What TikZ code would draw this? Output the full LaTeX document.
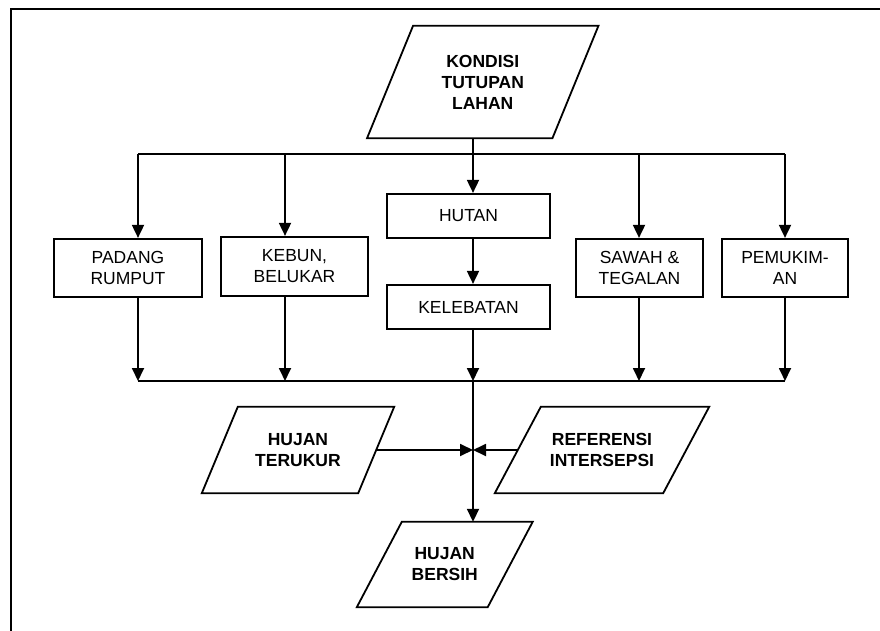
\documentclass[tikz,border=0pt]{standalone}
\usepackage{fontspec}
\setmainfont{Liberation Sans}
\usetikzlibrary{arrows.meta}
\tikzset{
  box/.style={draw, line width=2.2pt, inner sep=0pt, align=center,
    font=\fontsize{17.5}{21}\selectfont},
  ptext/.style={inner sep=0pt, align=center,
    font=\fontsize{17.5}{21}\selectfont\bfseries},
  conn/.style={line width=1.8pt, -{Triangle[length=13pt,width=12pt]}},
  plain/.style={line width=1.8pt},
}
\newcommand{\pgramdraw}[2]{%
  \draw[line width=1.8pt, line join=miter]
    ([xshift=#2pt]#1.north west) -- ([xshift=#2pt]#1.north east)
    -- ([xshift=-#2pt]#1.south east) -- ([xshift=-#2pt]#1.south west) -- cycle;}
\begin{document}
\begin{tikzpicture}[x=1pt,y=-1pt]
\useasboundingbox (0,0) rectangle (880,631);
% frame
\draw[line width=2.2pt] (11,631) -- (11,9) -- (880,9);

% parallelograms
\node[ptext, minimum width=185pt, minimum height=112pt] (kondisi) at (482.75,82) {KONDISI\\TUTUPAN\\LAHAN};
\pgramdraw{kondisi}{23}
\node[ptext, minimum width=156pt, minimum height=86pt] (terukur) at (298,450) {HUJAN\\TERUKUR};
\pgramdraw{terukur}{18}
\node[ptext, minimum width=168pt, minimum height=86pt] (referensi) at (602,450) {REFERENSI\\INTERSEPSI};
\pgramdraw{referensi}{23}
\node[ptext, minimum width=130.5pt, minimum height=85pt] (bersih) at (444.75,564.5) {HUJAN\\BERSIH};
\pgramdraw{bersih}{22.5}

% rectangles
\node[box, minimum width=148pt, minimum height=58pt] (padang) at (128,268) {PADANG\\RUMPUT};
\node[box, minimum width=147pt, minimum height=59pt] (kebun) at (294.5,266.5) {KEBUN,\\BELUKAR};
\node[box, minimum width=163pt, minimum height=44pt] (hutan) at (468.5,216) {HUTAN};
\node[box, minimum width=163pt, minimum height=44pt] (kelebatan) at (468.5,307) {KELEBATAN};
\node[box, minimum width=127pt, minimum height=58pt] (sawah) at (639.5,268) {SAWAH \&\\TEGALAN};
\node[box, minimum width=126pt, minimum height=58pt] (pemukiman) at (785,268) {PEMUKIM-\\AN};

% distribution lines
\coordinate (c1) at (138,154);
\coordinate (c2) at (285,154);
\coordinate (c3) at (473,154);
\coordinate (c4) at (639,154);
\coordinate (c5) at (785,154);
\coordinate (d1) at (138,381);
\coordinate (d2) at (285,381);
\coordinate (d3) at (473,381);
\coordinate (d4) at (639,381);
\coordinate (d5) at (785,381);
\coordinate (j) at (473,450);

\draw[plain] (c3 |- kondisi.south) -- (c3);
\draw[plain] (c1) -- (c5);
\draw[conn] (c1) -- (c1 |- padang.north);
\draw[conn] (c2) -- (c2 |- kebun.north);
\draw[conn] (c3) -- (c3 |- hutan.north);
\draw[conn] (c4) -- (c4 |- sawah.north);
\draw[conn] (c5) -- (c5 |- pemukiman.north);
\draw[conn] (c3 |- hutan.south) -- (c3 |- kelebatan.north);

\draw[conn] (d1 |- padang.south) -- (d1);
\draw[conn] (d2 |- kebun.south) -- (d2);
\draw[conn] (d3 |- kelebatan.south) -- (d3);
\draw[conn] (d4 |- sawah.south) -- (d4);
\draw[conn] (d5 |- pemukiman.south) -- (d5);
\draw[plain] (d1) -- (d5);

\draw[conn] (d3) -- (d3 |- bersih.north);
\draw[conn] (terukur.east) -- (j);
\draw[conn] (referensi.west) -- (j);
\end{tikzpicture}
\end{document}
